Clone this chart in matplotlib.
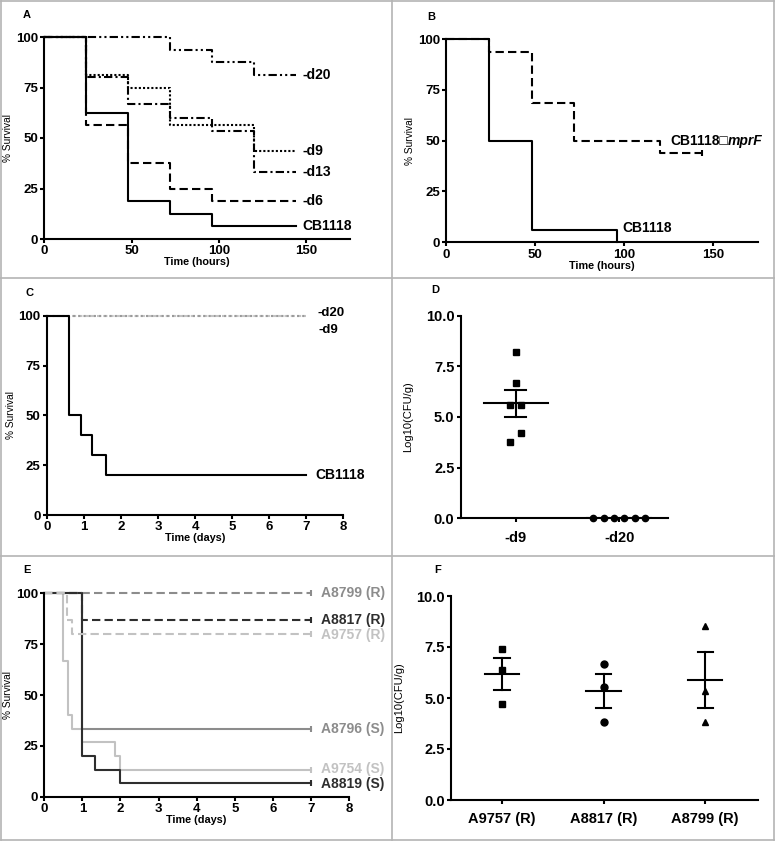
import numpy as np
import matplotlib
matplotlib.use("Agg")
import matplotlib.pyplot as plt
from matplotlib.lines import Line2D

plt.rcParams["font.family"] = ["Liberation Sans", "DejaVu Sans"]

# ── Panel A: survival over hours ─────────────────────────────────────
a_cb_t,  a_cb_s  = [0, 24, 48, 72, 96, 144], [100, 62.5, 18.75, 12.5, 6.25, 6.25]
a_d6_t,  a_d6_s  = [0, 24, 48, 72, 96, 144], [100, 56.25, 37.5, 25, 18.75, 18.75]
a_d9_t,  a_d9_s  = [0, 24, 48, 72, 120, 144], [100, 81.25, 75, 56.25, 43.75, 43.75]
a_d13_t, a_d13_s = [0, 24, 48, 72, 96, 120, 144], [100, 80, 66.67, 60, 53.33, 33.33, 33.33]
a_d20_t, a_d20_s = [0, 72, 96, 120, 144], [100, 93.75, 87.5, 81.25, 81.25]

# ── Panel B ───────────────────────────────────────────────────────────
b_cb_t,   b_cb_s   = [0, 24, 48, 96], [100, 50, 6.25, 0]
b_mprf_t, b_mprf_s = [0, 24, 48, 72, 120, 144], [100, 93.75, 68.75, 50, 43.75, 43.75]

# ── Panel C: survival over days ──────────────────────────────────────
c_cb_t,  c_cb_s  = [0, 0.6, 0.93, 1.22, 1.6, 7], [100, 50, 40, 30, 20, 20]
c_d20_t, c_d20_s = [0, 7], [100, 100]
c_d9_t,  c_d9_s  = [0, 7], [100, 100]

# ── Panel D: bacterial load ──────────────────────────────────────────
d_groups = ["-d9", "-d20"]
d_d9  = [8.19, 6.66, 5.59, 5.59, 4.19, 3.78]
d_d20 = [0, 0, 0, 0, 0, 0]

# ── Panel E: clinical isolates ───────────────────────────────────────
e_names = ["A8799 (R)", "A8817 (R)", "A9757 (R)", "A8796 (S)", "A9754 (S)", "A8819 (S)"]
e_times = [
    [0, 7],
    [0, 1, 7],
    [0, 0.6, 0.73, 7],
    [0, 1, 7],
    [0, 0.5, 0.62, 0.73, 1, 1.85, 2, 7],
    [0, 1, 1.33, 2, 7],
]
e_surv = [
    [100, 100],
    [100, 86.67, 86.67],
    [100, 86.67, 80, 80],
    [100, 33.33, 33.33],
    [100, 66.67, 40, 33.33, 26.67, 20, 13.33, 13.33],
    [100, 20, 13.33, 6.67, 6.67],
]

# ── Panel F ───────────────────────────────────────────────────────────
f_groups = ["A9757 (R)", "A8817 (R)", "A8799 (R)"]
f_vals = [[7.40, 6.35, 4.72], [6.65, 5.55, 3.80], [8.52, 5.32, 3.84]]

W, H = 775, 841
fig = plt.figure(figsize=(W / 100, H / 100), dpi=100)

LW = 1.5
TICK_KW = dict(direction="out", length=3, width=LW)


def make_ax(x0, x1, ytop, ybot):
    ax = fig.add_axes([x0 / W, 1 - ybot / H, (x1 - x0) / W, (ybot - ytop) / H])
    for s in ("top", "right"):
        ax.spines[s].set_visible(False)
    for s in ("left", "bottom"):
        ax.spines[s].set_linewidth(LW)
    ax.tick_params(**TICK_KW)
    return ax


def bold_ticks(ax):
    for lab in ax.get_xticklabels() + ax.get_yticklabels():
        lab.set_fontweight("bold")


def surv_axes(ax, xmax, xticks, xlabel):
    ax.set_xlim(0, xmax)
    ax.set_ylim(0, 100)
    ax.set_xticks(xticks)
    ax.set_yticks([0, 25, 50, 75, 100])
    ax.tick_params(labelsize=9.5, pad=1.5)
    ax.set_ylabel("% Survival", fontsize=7.3, labelpad=2)
    ax.set_xlabel(xlabel, fontsize=7.8, fontweight="bold", labelpad=0)
    bold_ticks(ax)


def step(ax, t, s, color="black", dashes=None, censor=False):
    ln, = ax.step(t, s, where="post", color=color, lw=LW, clip_on=False)
    if dashes:
        ln.set_dashes(dashes)
    if censor:
        # small censoring tick at the end of the curve
        ax.plot(t[-1], s[-1], marker="|", ms=4, mew=1.5, color=color, clip_on=False)
    return ln


# Panel A
axA = make_ax(44.3, 350, 37, 239)
step(axA, a_cb_t, a_cb_s)
step(axA, a_d6_t, a_d6_s, dashes=(4, 2))
step(axA, a_d9_t, a_d9_s, dashes=(1, 1))
step(axA, a_d13_t, a_d13_s, dashes=(4, 1.5, 1, 1.5))
step(axA, a_d20_t, a_d20_s, dashes=(4, 1.5, 1, 1.5, 1, 1.5))
surv_axes(axA, 175, [0, 50, 100, 150], "Time (hours)")
for txt, y in [("-d20", a_d20_s[-1]), ("-d9", a_d9_s[-1]), ("-d13", a_d13_s[-1]),
               ("-d6", a_d6_s[-1]), ("CB1118", a_cb_s[-1])]:
    axA.text(148, y, txt, fontsize=10, fontweight="bold", va="center", ha="left")

# Panel B
axB = make_ax(446.3, 757.5, 39, 242.3)
step(axB, b_cb_t, b_cb_s)
step(axB, b_mprf_t, b_mprf_s, dashes=(4, 2), censor=True)
surv_axes(axB, 175, [0, 50, 100, 150], "Time (hours)")
t_cb = axB.text(126, 50, "CB1118\u25a1", fontsize=10, fontweight="bold", va="center", ha="left")
axB.annotate("mprF", xy=(1, 0.5), xycoords=t_cb, fontsize=10, fontweight="bold",
             style="italic", va="center", ha="left")
axB.text(99, 7, "CB1118", fontsize=10, fontweight="bold", va="center", ha="left")

# Panel C
axC = make_ax(46.7, 343.3, 315.7, 515)
step(axC, c_d9_t, c_d9_s, color="#c4c4c4", dashes=(2, 1))
step(axC, c_d20_t, c_d20_s, color="#9a9a9a", dashes=(1, 1.5))
step(axC, c_cb_t, c_cb_s)
surv_axes(axC, 8, range(0, 9), "Time (days)")
axC.text(7.3, 101.5, "-d20", fontsize=9.5, fontweight="bold", va="center", ha="left")
axC.text(7.33, 93, "-d9", fontsize=9.5, fontweight="bold", va="center", ha="left")
axC.text(7.25, 20, "CB1118", fontsize=10, fontweight="bold", va="center", ha="left")


def scatter_panel(ax, groups, vals, markers, offsets, half_mean, half_cap, msize):
    for i, (v, m, off) in enumerate(zip(vals, markers, offsets)):
        v = np.asarray(v, float)
        ax.plot(i + np.asarray(off), v, ls="none", marker=m, color="black",
                ms=msize, clip_on=False, zorder=3)
        mean = v.mean()
        sem = v.std(ddof=1) / np.sqrt(len(v))
        ax.plot([i - half_mean, i + half_mean], [mean, mean], color="black", lw=LW)
        if sem > 0:
            ax.plot([i, i], [mean - sem, mean + sem], color="black", lw=LW)
            for yy in (mean - sem, mean + sem):
                ax.plot([i - half_cap, i + half_cap], [yy, yy], color="black", lw=LW)
    ax.set_ylim(0, 10)
    ax.set_yticks([0, 2.5, 5, 7.5, 10])
    ax.set_yticklabels(["0.0", "2.5", "5.0", "7.5", "10.0"])
    ax.set_xticks(range(len(groups)))
    ax.set_xticklabels(groups)
    ax.tick_params(labelsize=10.5, pad=1.5)
    ax.tick_params(axis="x", pad=6)
    ax.set_ylabel("Log10(CFU/g)", fontsize=8, labelpad=9)
    bold_ticks(ax)


# Panel D
axD = make_ax(460.7, 668, 315.7, 518.3)
scatter_panel(axD, d_groups, [d_d9, d_d20], ["s", "o"],
              [[0, 0, -0.05, 0.05, 0.05, -0.05], [-0.25, -0.15, -0.05, 0.05, 0.15, 0.25]],
              0.31, 0.1, 4.5)
axD.set_xlim(-0.53, 1.47)

# Panel E
e_colors = ["#8c8c8c", "#2e2e2e", "#c2c2c2", "#8c8c8c", "#c2c2c2", "#2e2e2e"]
e_dashed = [True, True, True, False, False, False]
axE = make_ax(44.3, 349, 593.3, 796.7)
for t, s, c, d in zip(e_times, e_surv, e_colors, e_dashed):
    if not d:
        step(axE, t, s, color=c, censor=True)
for t, s, c, d in zip(e_times, e_surv, e_colors, e_dashed):
    if d:
        step(axE, t, s, color=c, dashes=(4, 2), censor=True)
surv_axes(axE, 8, range(0, 9), "Time (days)")
e_label_y = [100, 86.67, 79.5, 33.33, 13.5, 6]
for name, y, c in zip(e_names, e_label_y, e_colors):
    axE.text(7.27, y, name, fontsize=10, fontweight="bold", color=c, va="center", ha="left")

# Panel F
axF = make_ax(451.3, 758, 596, 800)
scatter_panel(axF, f_groups, f_vals, ["s", "o", "^"],
              [[0, 0, 0], [0, 0, 0], [0, 0, 0]], 0.17, 0.075, 5)
axF.set_xlim(-0.5, 2.52)

# Panel letters
for letter, x, y in [("A", 27, 15), ("B", 431, 17), ("C", 30, 293),
                     ("D", 435, 290), ("E", 27, 570), ("F", 438, 570)]:
    fig.text(x / W, 1 - y / H, letter, fontsize=8, fontweight="bold", ha="center", va="center")

# Panel borders
grid_c = "#b4b4b4"
for (x0, y0, x1, y1) in [(1, 1, W - 1, 1), (1, H - 1, W - 1, H - 1), (1, 1, 1, H - 1),
                         (W - 1, 1, W - 1, H - 1), (392, 0, 392, H), (0, 278, W, 278),
                         (0, 556, W, 556)]:
    fig.add_artist(Line2D([x0 / W, x1 / W], [1 - y0 / H, 1 - y1 / H],
                          color=grid_c, lw=1.2, transform=fig.transFigure))

fig.savefig("out.png", dpi=100)
